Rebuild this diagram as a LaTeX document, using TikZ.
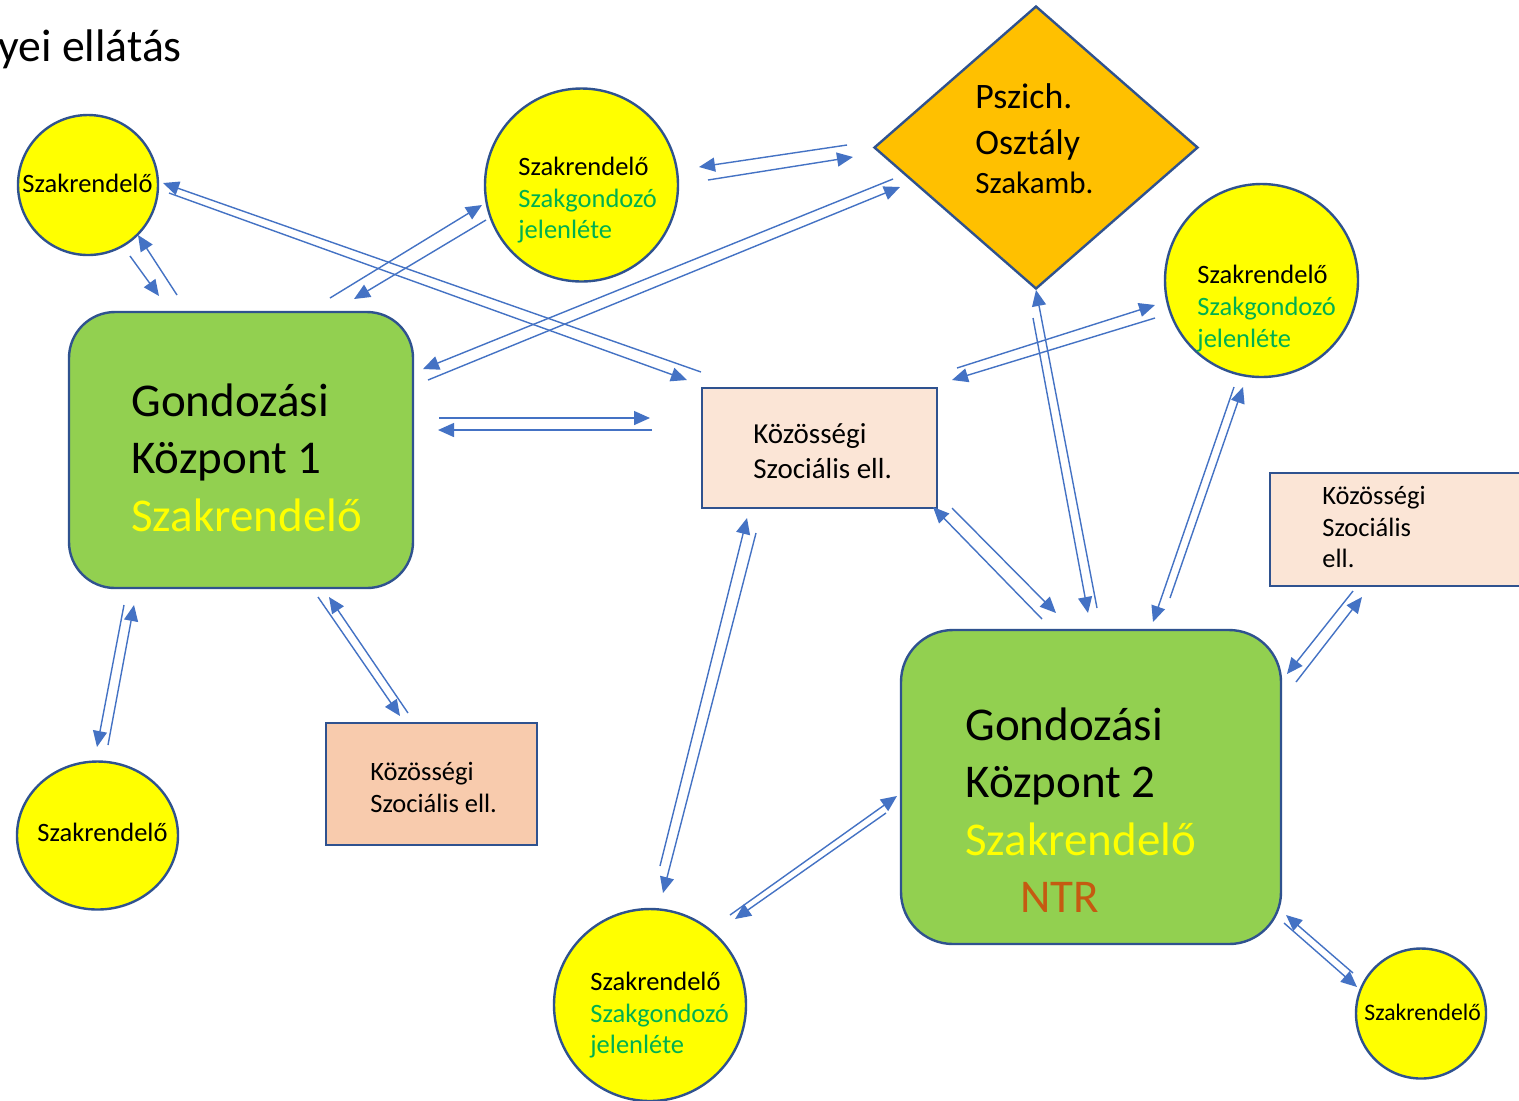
\documentclass[tikz,border=0pt]{standalone}
\usepackage{fontspec}
\setmainfont{Carlito}
\usetikzlibrary{arrows.meta,shapes.geometric}
\definecolor{bordc}{HTML}{2F528F}
\definecolor{arrc}{HTML}{4472C4}
\definecolor{yel}{HTML}{FFFF00}
\definecolor{grn}{HTML}{92D050}
\definecolor{orng}{HTML}{FFC000}
\definecolor{peachL}{HTML}{FBE5D6}
\definecolor{peachD}{HTML}{F8CBAD}
\definecolor{gtext}{HTML}{00B050}
\definecolor{ntrc}{HTML}{C55A11}
\tikzset{
  circ/.style={circle, draw=bordc, line width=1.2pt, fill=yel, inner sep=0pt, minimum size=#1},
  gbox/.style={rectangle, draw=bordc, line width=1.2pt, fill=grn, inner sep=0pt},
  pbox/.style={rectangle, draw=bordc, line width=1.2pt, fill=peachL, inner sep=0pt},
  arr/.style={draw=arrc, line width=0.7pt, -{Triangle[length=8pt,width=7pt]}},
  txt/.style={anchor=base west, inner sep=0pt},
  fbig/.style={font=\fontsize{23.5}{28}\selectfont},
  fsmall/.style={font=\fontsize{13.25}{16}\selectfont},
  fmid/.style={font=\fontsize{14.5}{17.5}\selectfont},
}
\newcommand\twoway[5]{%
  \coordinate (#1a) at #2; \coordinate (#1b) at #3;
  \coordinate (#1c) at #4; \coordinate (#1d) at #5;
  \draw[arr] (#1a) -- (#1b); \draw[arr] (#1c) -- (#1d);}
\begin{document}
\begin{tikzpicture}[x=0.5pt,y=-0.5pt]
\clip (0,0) rectangle (1519,1100);
\fill[white] (0,0) rectangle (1519,1100);

% title
\node[txt, font=\fontsize{22.85}{27}\selectfont] (title) at (-2,61) {yei ellátás};

% shapes
\node[circ=70pt] (szTL) at (88,185) {};
\node[circ=96.5pt] (szM) at (581.5,185) {};
\node[circ=96.5pt] (szR) at (1261.5,280.5) {};
\node[ellipse, draw=bordc, line width=1.2pt, fill=yel, inner sep=0pt, minimum width=80.5pt, minimum height=74pt] (szBL) at (97.5,835.5) {};
\node[circ=96pt] (szBM) at (650,1005) {};
\node[circ=65pt] (szBR) at (1421,1013.5) {};
\node[diamond, draw=bordc, line width=1.2pt, fill=orng, inner sep=0pt, minimum width=162pt, minimum height=141.5pt] (psz) at (1036,147.5) {};
\node[gbox, rounded corners=23pt, minimum width=172pt, minimum height=138pt] (gk1) at (241,450) {};
\node[gbox, rounded corners=26pt, minimum width=190pt, minimum height=157pt] (gk2) at (1091,787) {};
\node[pbox, minimum width=117.5pt, minimum height=60pt] (kszM) at (819.5,448) {};
\node[pbox, minimum width=130pt, minimum height=56.5pt] (kszR) at (1400,529.5) {};
\node[pbox, fill=peachD, minimum width=105.5pt, minimum height=61pt] (kszBL) at (431.5,784) {};

% texts
\node[txt, fsmall] (tTL) at (22,192) {Szakrendelő};
\node[txt, fsmall] (tBL) at (37,841) {Szakrendelő};
\node[txt, font=\fontsize{11.85}{14}\selectfont] (tBR) at (1364,1020) {Szakrendelő};

\node[txt, fsmall] (tM1) at (518,175) {Szakrendelő};
\node[txt, fsmall, text=gtext] (tM2) at (518,207) {Szakgondozó};
\node[txt, fsmall, text=gtext] (tM3) at (518,238) {jelenléte};

\node[txt, fsmall] (tR1) at (1197,283) {Szakrendelő};
\node[txt, fsmall, text=gtext] (tR2) at (1197,315) {Szakgondozó};
\node[txt, fsmall, text=gtext] (tR3) at (1197,347) {jelenléte};

\node[txt, fsmall] (tB1) at (590,990) {Szakrendelő};
\node[txt, fsmall, text=gtext] (tB2) at (590,1022) {Szakgondozó};
\node[txt, fsmall, text=gtext] (tB3) at (590,1053) {jelenléte};

\node[txt, fmid] (tK1) at (753,443) {Közösségi};
\node[txt, fmid] (tK2) at (753,478) {Szociális ell.};

\node[txt, fsmall] (tKR1) at (1322,504) {Közösségi};
\node[txt, fsmall] (tKR2) at (1322,536) {Szociális};
\node[txt, fsmall] (tKR3) at (1322,567) {ell.};

\node[txt, fsmall] (tKB1) at (370,780) {Közösségi};
\node[txt, fsmall] (tKB2) at (370,812) {Szociális ell.};

\node[txt, font=\fontsize{17.9}{21}\selectfont] (tD1) at (975,108) {Pszich.};
\node[txt, font=\fontsize{17.9}{21}\selectfont] (tD2) at (975,154) {Osztály};
\node[txt, font=\fontsize{15.5}{19}\selectfont] (tD3) at (975,193) {Szakamb.};

\node[txt, fbig] (tG11) at (131,416) {Gondozási};
\node[txt, fbig] (tG12) at (131,473) {Központ 1};
\node[txt, fbig, text=yel] (tG13) at (131,531) {Szakrendelő};

\node[txt, fbig] (tG21) at (965,740) {Gondozási};
\node[txt, fbig] (tG22) at (965,797) {Központ 2};
\node[txt, fbig, text=yel] (tG23) at (965,855) {Szakrendelő};
\node[txt, fbig, text=ntrc] (tG24) at (1020,912) {NTR};

% connectors (pairs of one-way arrows)
\twoway{p1}{(130,256)}{(159,296)}{(177,295)}{(138,235)}
\twoway{p2}{(701,372)}{(163,183)}{(169,193)}{(687,380)}
\twoway{p3}{(330,298)}{(482,205)}{(486,220)}{(354,299)}
\twoway{p4}{(847,145)}{(699,167)}{(708,180)}{(853,157)}
\twoway{p5}{(893,179)}{(423,369)}{(428,380)}{(900,187)}
\twoway{p6}{(439,418)}{(650,418)}{(652,430)}{(438,430)}
\twoway{p7}{(124,605)}{(97,747)}{(108,745)}{(134,605)}
\twoway{p8}{(318,597)}{(400,716)}{(408,713)}{(329,597)}
\twoway{p9}{(756,533)}{(663,893)}{(660,866)}{(747,518)}
\twoway{p10}{(957,368)}{(1155,305)}{(1155,318)}{(952,380)}
\twoway{p11}{(1097,608)}{(1036,290)}{(1033,318)}{(1088,613)}
\twoway{p12}{(1170,598)}{(1243,387)}{(1234,387)}{(1153,622)}
\twoway{p13}{(1042,619)}{(933,507)}{(952,508)}{(1056,613)}
\twoway{p14}{(1353,591)}{(1287,674)}{(1296,682)}{(1362,597)}
\twoway{p15}{(730,915)}{(897,796)}{(886,813)}{(735,919)}
\twoway{p16}{(1353,973)}{(1286,915)}{(1284,923)}{(1357,987)}
\end{tikzpicture}
\end{document}
